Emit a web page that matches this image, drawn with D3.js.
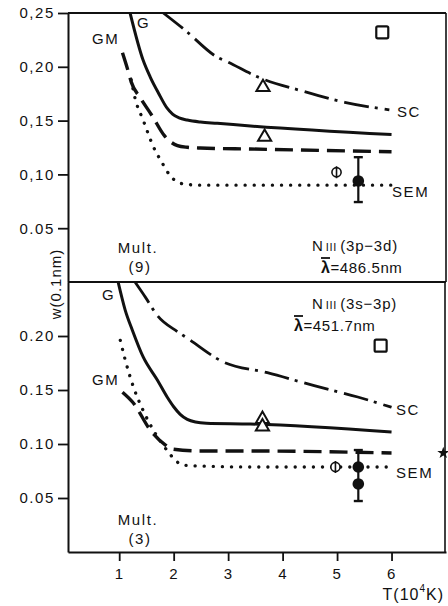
<!DOCTYPE html>
<html><head><meta charset="utf-8">
<script src="https://cdn.jsdelivr.net/npm/d3@7"></script>
<style>
html,body{margin:0;padding:0;background:#fff;}
svg text{font-family:"Liberation Sans",Arial,Helvetica,sans-serif;fill:#111;}
</style></head>
<body><svg id="c" width="448" height="606"></svg>
<script>
// ---------- data ----------
const xTicks = [1, 2, 3, 4, 5, 6];
const xTickLabels = ["1", "2", "3", "4", "5", "6"];
const topYTicks = [0.25, 0.20, 0.15, 0.10, 0.05];
const topYTickLabels = ["0,25", "0,20", "0,15", "0,10", "0.05"];
const botYTicks = [0.20, 0.15, 0.10, 0.05];
const botYTickLabels = ["0.20", "0.15", "0.10", "0.05"];

// top panel: N III (3p-3d), 486.5 nm
const topG_T  = [1.20, 1.44, 1.57, 1.72, 1.88, 1.98, 2.10, 2.25, 2.49, 2.80, 3.41, 6.00];
const topG_w  = [0.250, 0.206, 0.1905, 0.1757, 0.1615, 0.156, 0.1525, 0.1505, 0.1487, 0.1475, 0.145, 0.137];
const topSC_T = [1.81, 2.21, 2.80, 2.99, 3.57, 4.36, 5.14, 5.96];
const topSC_w = [0.250, 0.234, 0.209, 0.2045, 0.190, 0.1775, 0.167, 0.160];
const topGM_T = [1.06, 1.17, 1.22, 1.39, 1.61, 1.83, 1.95, 2.07, 2.25, 2.49, 3.41, 6.00];
const topGM_w = [0.213, 0.195, 0.186, 0.171, 0.154, 0.136, 0.130, 0.1268, 0.1252, 0.1245, 0.1236, 0.121];
const topSEM_T = [1.22, 1.29, 1.44, 1.63, 1.79, 1.94, 2.05, 2.20, 2.49, 6.00];
const topSEM_w = [0.188, 0.171, 0.1505, 0.1255, 0.1106, 0.0985, 0.0935, 0.091, 0.090, 0.090];
const topTri_T = [3.64, 3.67];
const topTri_w = [0.181, 0.1347];
const topSq_T = [5.83], topSq_w = [0.232];
const topDot_T = [5.39], topDot_w = [0.0939];
const topErr_lo = [0.0743], topErr_hi = [0.116];
const topPhi_T = [4.99], topPhi_w = [0.102];

// bottom panel: N III (3s-3p), 451.7 nm
const botG_T  = [0.98, 1.11, 1.24, 1.44, 1.70, 1.88, 2.00, 2.12, 2.25, 2.40, 2.60, 3.41, 6.00];
const botG_w  = [0.250, 0.224, 0.2056, 0.1806, 0.1593, 0.1435, 0.1345, 0.1275, 0.1228, 0.1203, 0.1192, 0.1185, 0.111];
const botSC_T = [1.29, 1.48, 1.70, 2.07, 2.25, 2.91, 3.72, 4.58, 5.38, 6.00];
const botSC_w = [0.250, 0.236, 0.219, 0.204, 0.198, 0.176, 0.166, 0.154, 0.1435, 0.134];
const botGM_T = [1.06, 1.26, 1.57, 1.85, 1.97, 2.49, 3.41, 6.00];
const botGM_w = [0.148, 0.138, 0.113, 0.099, 0.0954, 0.0935, 0.0935, 0.0917];
const botSEM_T = [1.02, 1.11, 1.26, 1.44, 1.66, 1.88, 2.03, 2.16, 2.49, 3.41, 6.00];
const botSEM_w = [0.196, 0.178, 0.153, 0.131, 0.110, 0.094, 0.085, 0.0806, 0.0796, 0.0787, 0.0787];
const botTri_T = [3.63, 3.63];
const botTri_w = [0.123, 0.116];
const botSq_T = [5.80], botSq_w = [0.191];
const botDot_T = [5.39, 5.39], botDot_w = [0.0787, 0.063];
const botErr_lo = [0.0472], botErr_hi = [0.0944];
const botPhi_T = [4.97], botPhi_w = [0.0787];
const botStar_T = [6.95], botStar_w = [0.0917];

// ---------- layout ----------
const svg = d3.select("#c");
const L = 68, R = 446;
const x = d3.scaleLinear().domain([0.06, 7.0]).range([L, R]);
const yTop = d3.scaleLinear().domain([0, 0.25]).range([282, 13]);
const yBot = d3.scaleLinear().domain([0, 0.25]).range([552, 282]);
const zip = (a, b) => a.map((v, i) => [v, b[i]]);

const defs = svg.append("defs");
defs.append("clipPath").attr("id", "clipTop").append("rect")
  .attr("x", L).attr("y", 13).attr("width", R - L).attr("height", 269);
defs.append("clipPath").attr("id", "clipBot").append("rect")
  .attr("x", L).attr("y", 282).attr("width", R - L).attr("height", 270);

const styles = {
  G:   {w: 3,   dash: null},
  GM:  {w: 3.4, dash: "18,8"},
  SC:  {w: 2.8, dash: "25,6,3,7"},
  SEM: {w: 3.3, dash: "0.1,9", cap: "round"}
};

function panel(y, clip, series, tri, sq, dots, err, phi) {
  const g = svg.append("g").attr("clip-path", `url(#${clip})`);
  const line = d3.line().x(d => x(d[0])).y(d => y(d[1])).curve(d3.curveMonotoneX);
  series.forEach(s => {
    const st = styles[s.key];
    g.append("path").attr("d", line(s.pts)).attr("fill", "none")
      .attr("stroke", "#111").attr("stroke-width", st.w)
      .attr("stroke-dasharray", st.dash)
      .attr("stroke-linecap", st.cap || "butt")
      .attr("stroke-linejoin", "round");
  });
  const m = svg.append("g");
  const triSym = d3.symbol().type(d3.symbolTriangle).size(75);
  tri.forEach(p => m.append("path").attr("d", triSym())
    .attr("transform", `translate(${x(p[0])},${y(p[1])})`)
    .attr("fill", "#fff").attr("stroke", "#111").attr("stroke-width", 2));
  sq.forEach(p => m.append("rect").attr("x", x(p[0]) - 6).attr("y", y(p[1]) - 6)
    .attr("width", 12).attr("height", 12).attr("rx", 1.5)
    .attr("fill", "#fff").attr("stroke", "#111").attr("stroke-width", 2.2));
  err.forEach(e => {
    const cx = x(e.T);
    m.append("line").attr("x1", cx).attr("x2", cx).attr("y1", y(e.lo)).attr("y2", y(e.hi))
      .attr("stroke", "#111").attr("stroke-width", 2.2);
    [e.lo, e.hi].forEach(v => m.append("line").attr("x1", cx - 4.5).attr("x2", cx + 4.5)
      .attr("y1", y(v)).attr("y2", y(v)).attr("stroke", "#111").attr("stroke-width", 2.4));
  });
  dots.forEach(p => m.append("circle").attr("cx", x(p[0])).attr("cy", y(p[1])).attr("r", 5.8)
    .attr("fill", "#111"));
  phi.forEach(p => {
    m.append("circle").attr("cx", x(p[0])).attr("cy", y(p[1])).attr("r", 4.6)
      .attr("fill", "#fff").attr("stroke", "#111").attr("stroke-width", 1.6);
    m.append("line").attr("x1", x(p[0])).attr("x2", x(p[0]))
      .attr("y1", y(p[1]) - 6).attr("y2", y(p[1]) + 6).attr("stroke", "#111").attr("stroke-width", 1.6);
  });
}

panel(yTop, "clipTop",
  [{key: "SC", pts: zip(topSC_T, topSC_w)}, {key: "G", pts: zip(topG_T, topG_w)},
   {key: "GM", pts: zip(topGM_T, topGM_w)}, {key: "SEM", pts: zip(topSEM_T, topSEM_w)}],
  zip(topTri_T, topTri_w), zip(topSq_T, topSq_w), zip(topDot_T, topDot_w),
  [{T: topDot_T[0], lo: topErr_lo[0], hi: topErr_hi[0]}], zip(topPhi_T, topPhi_w));

panel(yBot, "clipBot",
  [{key: "SC", pts: zip(botSC_T, botSC_w)}, {key: "G", pts: zip(botG_T, botG_w)},
   {key: "GM", pts: zip(botGM_T, botGM_w)}, {key: "SEM", pts: zip(botSEM_T, botSEM_w)}],
  zip(botTri_T, botTri_w), zip(botSq_T, botSq_w), zip(botDot_T, botDot_w),
  [{T: botDot_T[0], lo: botErr_lo[0], hi: botErr_hi[0]}], zip(botPhi_T, botPhi_w));

// star marker on right border
svg.append("path").attr("d", d3.symbol().type(d3.symbolStar).size(45)())
  .attr("transform", `translate(${x(botStar_T[0])},${yBot(botStar_w[0])})`).attr("fill", "#111");

// ---------- frames & axes ----------
const frame = svg.append("g").attr("stroke", "#111").attr("fill", "none");
frame.append("line").attr("x1", L).attr("x2", R).attr("y1", 13).attr("y2", 13).attr("stroke-width", 1.8);
frame.append("line").attr("x1", L).attr("x2", R).attr("y1", 282).attr("y2", 282).attr("stroke-width", 1.8);
frame.append("line").attr("x1", R).attr("x2", R).attr("y1", 13).attr("y2", 282).attr("stroke-width", 1.6);
frame.append("line").attr("x1", R - 1).attr("x2", R - 1).attr("y1", 282).attr("y2", 552).attr("stroke-width", 1.6);

function styleAxis(g) {
  g.selectAll(".domain").attr("stroke", "#111").attr("stroke-width", 2);
  g.selectAll(".tick line").attr("stroke", "#111").attr("stroke-width", 1.8);
  g.selectAll(".tick text").attr("font-size", 15).attr("letter-spacing", "1.6px")
    .attr("font-family", '"Liberation Sans",Arial,sans-serif').attr("fill", "#111");
}
svg.append("g").attr("transform", `translate(${L},0)`)
  .call(d3.axisLeft(yTop).tickValues(topYTicks).tickSize(10).tickSizeOuter(0).tickPadding(3)
    .tickFormat((d, i) => topYTickLabels[i]))
  .call(styleAxis);
svg.append("g").attr("transform", `translate(${L},0)`)
  .call(d3.axisLeft(yBot).tickValues(botYTicks).tickSize(10).tickSizeOuter(0).tickPadding(3)
    .tickFormat((d, i) => botYTickLabels[i]))
  .call(styleAxis);
svg.append("g").attr("transform", `translate(0,552)`)
  .call(d3.axisBottom(x).tickValues(xTicks).tickSize(9).tickSizeOuter(0).tickPadding(7)
    .tickFormat((d, i) => xTickLabels[i]))
  .call(styleAxis);

// ---------- text ----------
function txt(s, xx, yy, opt = {}) {
  return svg.append("text").attr("x", xx).attr("y", yy)
    .attr("font-size", opt.size || 15).attr("letter-spacing", opt.ls || "1.6px")
    .attr("text-anchor", opt.anchor || "start").text(s);
}
// top panel
txt("G", 137, 28);
txt("GM", 92, 44);
txt("SC", 397, 117);
txt("SEM", 392, 197);
txt("Mult.", 138, 253, {anchor: "middle"});
txt("(9)", 140, 272, {anchor: "middle"});
function nIII(xx, yy, trans) {
  const t = svg.append("text").attr("x", xx).attr("y", yy).attr("font-size", 15).attr("letter-spacing", "0.8px");
  t.append("tspan").text("N");
  t.append("tspan").attr("font-size", 11).attr("dx", 2).text("III");
  t.append("tspan").attr("dx", 3).text("(" + trans + ")");
}
function lambda(xx, yy, val) {
  const t = svg.append("text").attr("x", xx).attr("y", yy).attr("font-size", 15).attr("letter-spacing", "0.6px");
  t.append("tspan").attr("font-weight", "bold").attr("font-size", 16).text("λ");
  t.append("tspan").text("=" + val);
  svg.append("line").attr("x1", xx).attr("x2", xx + 9).attr("y1", yy - 15).attr("y2", yy - 15)
    .attr("stroke", "#111").attr("stroke-width", 1.8);
}
nIII(312, 251, "3p−3d");
lambda(321, 273, "486.5nm");
// bottom panel
nIII(312, 309, "3s−3p");
lambda(294, 331, "451.7nm");
txt("G", 102, 300);
txt("GM", 92, 385);
txt("SC", 396, 415);
txt("SEM", 396, 478);
txt("Mult.", 138, 525, {anchor: "middle"});
txt("(3)", 140, 544, {anchor: "middle"});

// axis titles
svg.append("text").attr("transform", "translate(61,284) rotate(-90)")
  .attr("text-anchor", "middle").attr("font-size", 15).attr("letter-spacing", "1px").text("w(0.1nm)");
const tl = svg.append("text").attr("x", 444).attr("y", 600).attr("text-anchor", "end")
  .attr("font-size", 16).attr("letter-spacing", "1px");
tl.append("tspan").text("T(10");
tl.append("tspan").attr("font-size", 10).attr("dy", -8).text("4");
tl.append("tspan").attr("dy", 8).text("K)");
</script></body></html>
